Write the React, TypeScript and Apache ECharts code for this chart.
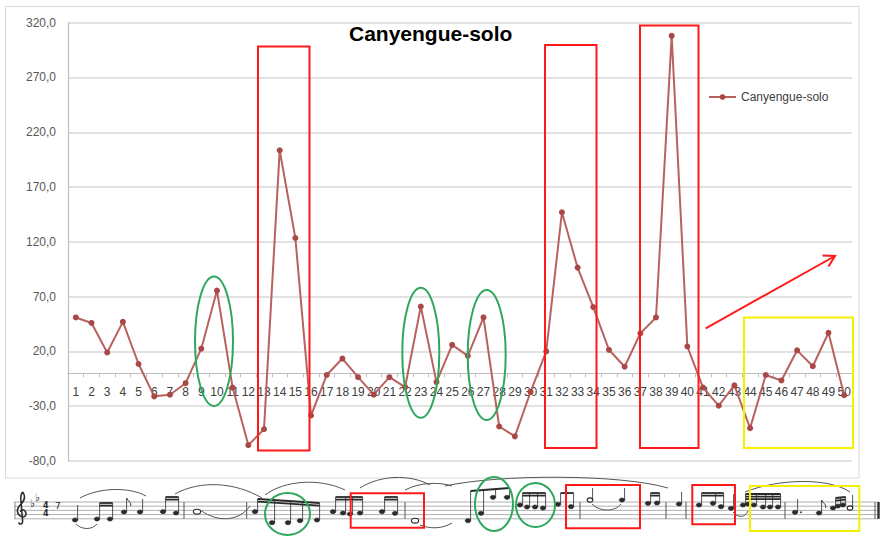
import React, { useEffect, useRef } from "react";
import * as echarts from "echarts";

// ---------- chart data ----------
const categories = [
  "1", "2", "3", "4", "5", "6", "7", "8", "9", "10",
  "11", "12", "13", "14", "15", "16", "17", "18", "19", "20",
  "21", "22", "23", "24", "25", "26", "27", "28", "29", "30",
  "31", "32", "33", "34", "35", "36", "37", "38", "39", "40",
  "41", "42", "43", "44", "45", "46", "47", "48", "49", "50",
];
const soloValues = [
  51, 46, 19, 47, 8.5, -21, -19.5, -9, 22.5, 75.5,
  -13, -65.5, -51, 203.5, 123.5, -38.5, -1.5, 13.5, -3.5, -19.5,
  -3.5, -12.5, 61, -8, 26, 16, 51, -48.5, -57.5, -17,
  20, 147, 96.5, 60.5, 21.5, 6, 36.5, 51, 308, 24.5,
  -13, -29.5, -11, -50, -1.5, -6.5, 21, 6.5, 37, -20,
];
const seriesName = "Canyengue-solo";
const titleText = "Canyengue-solo";
const yMin = -80;
const yMax = 320;
const yStep = 50;

// ---------- score illustration (decorative) ----------
type Group = {
  notes: number[][];
  beam?: number[];
  beams?: number;
  top?: number;
  flag?: boolean;
  open?: boolean;
  whole?: boolean;
  dot?: boolean;
};
const scoreGroups: Group[] = [
  { notes: [[75, 520]], top: 505 },
  { notes: [[97, 519], [110, 519]], beam: [503, 503], beams: 2 },
  { notes: [[124, 512]], top: 498, flag: true },
  { notes: [[140, 512]], top: 499 },
  { notes: [[163, 511.7], [176, 513]], beam: [497, 497], beams: 2 },
  { notes: [[197, 511.7]], whole: true },
  { notes: [[255, 511.7], [272, 522.7], [288, 522.7], [300, 520.7], [317, 520]], beam: [499, 503], beams: 2 },
  { notes: [[333, 511.7], [343, 513], [350, 514], [360, 513]], beam: [497, 497], beams: 2 },
  { notes: [[382, 511.7], [395, 513.3]], beam: [497, 497], beams: 2 },
  { notes: [[415, 520.7]], whole: true },
  { notes: [[468, 520.7], [481, 513.3], [493, 497.3], [507, 497.3]], beam: [491, 488], beams: 1 },
  { notes: [[520, 505], [527, 507], [535, 507], [543, 508]], beam: [493, 493], beams: 2 },
  { notes: [[558, 504.3], [571, 506.7]], beam: [493, 493], beams: 1 },
  { notes: [[590, 500]], top: 488, open: true },
  { notes: [[622, 500]], top: 488 },
  { notes: [[648, 503.3], [657, 503]], beam: [493, 493], beams: 2 },
  { notes: [[679, 504]], top: 492 },
  { notes: [[699, 505], [713, 503.3], [721, 506.7]], beam: [493, 493], beams: 2 },
  { notes: [[731, 508.3]], top: 494 },
  { notes: [[743, 505], [748, 504], [754, 505], [763, 507], [770, 507], [778, 507]], beam: [494, 494], beams: 3 },
  { notes: [[795, 512.3]], top: 499, dot: true },
  { notes: [[819, 513]], top: 500, flag: true },
  { notes: [[833, 508], [838, 506], [843, 505]], beam: [498, 497], beams: 2 },
  { notes: [[850, 508]], top: 495, open: true },
];
const barlines = [184, 246.7, 405, 580, 666, 686, 785];
const slurs = [
  [80, 498, 100, 487, 130, 487, 146, 496],
  [76, 524, 82, 530, 92, 530, 97, 524],
  [175, 494, 200, 480, 235, 482, 262, 498],
  [200, 510, 220, 524, 240, 520, 250, 506],
  [265, 495, 285, 480, 320, 478, 345, 490],
  [360, 488, 380, 475, 410, 474, 430, 485],
  [405, 490, 420, 482, 440, 482, 452, 486],
  [420, 525, 430, 529, 442, 529, 452, 523],
  [445, 486, 500, 474, 620, 474, 668, 488],
  [592, 504, 600, 512, 615, 512, 621, 504],
  [733, 512, 738, 518, 745, 518, 748, 511],
  [745, 492, 780, 478, 830, 478, 850, 492],
];

const CLEF_D =
  "M7 1 C10 5 9 10 5 14 C1 18 0 23 4 26 C8 29 12 26 10 22 C9 19 5 19 5 22 M7 1 C5 3 5 5 5 8 L7 32 C7 35 3 36 3 33";

const FONT = "'Liberation Sans', Arial, sans-serif";

// grid geometry (pixels)
const GRID_LEFT = 68;
const GRID_RIGHT = 29;
const GRID_TOP = 22.7;
const GRID_BOTTOM = 76;
const CHART_H = 537;

function buildScore(): any[] {
  const ink = "#2a2a2a";
  const els: any[] = [];
  const staffTop = 502;
  const gap = 4.2;
  for (let i = 0; i < 5; i++) {
    const y = staffTop + gap * i;
    els.push({
      type: "line",
      shape: { x1: 14, y1: y, x2: 879, y2: y },
      style: { stroke: "#9a9a9a", lineWidth: 0.8 },
    });
  }
  els.push({
    type: "line",
    shape: { x1: 15, y1: staffTop, x2: 15, y2: staffTop + gap * 4 },
    style: { stroke: "#777", lineWidth: 0.8 },
  });
  barlines.forEach((x) =>
    els.push({
      type: "line",
      shape: { x1: x, y1: staffTop, x2: x, y2: staffTop + gap * 4 },
      style: { stroke: "#555", lineWidth: 1 },
    })
  );
  els.push({
    type: "line",
    shape: { x1: 875, y1: staffTop, x2: 875, y2: staffTop + gap * 4 },
    style: { stroke: "#555", lineWidth: 1 },
  });
  els.push({
    type: "line",
    shape: { x1: 878.5, y1: staffTop, x2: 878.5, y2: staffTop + gap * 4 },
    style: { stroke: "#333", lineWidth: 2.5 },
  });
  els.push({
    type: "clef",
    x: 16,
    y: 491,
    scaleX: 0.95,
    scaleY: 0.95,
    style: { stroke: ink, fill: "none", lineWidth: 1.6 },
  });
  els.push({ type: "text", style: { text: "\u266D", x: 30, y: 498, font: "11px 'DejaVu Sans'", fill: ink } });
  els.push({ type: "text", style: { text: "\u266D", x: 35, y: 492, font: "11px 'DejaVu Sans'", fill: ink } });
  els.push({ type: "text", style: { text: "4", x: 43, y: 501, font: "bold 8px 'DejaVu Sans'", fill: ink } });
  els.push({ type: "text", style: { text: "4", x: 43, y: 509, font: "bold 8px 'DejaVu Sans'", fill: ink } });
  els.push({ type: "text", style: { text: "7", x: 55, y: 501, font: "9px 'DejaVu Sans'", fill: ink } });

  const so = 2.6;
  scoreGroups.forEach((g) => {
    g.notes.forEach(([x, y]) => {
      els.push({
        type: "ellipse",
        shape: { cx: x, cy: y, rx: g.whole ? 3.6 : 2.8, ry: g.whole ? 2.4 : 2.1 },
        style:
          g.whole || g.open
            ? { fill: "#fff", stroke: ink, lineWidth: 1.1 }
            : { fill: ink, stroke: ink, lineWidth: 0.5 },
      });
    });
    if (g.whole) return;
    if (g.beam) {
      const first = g.notes[0][0] + so;
      const last = g.notes[g.notes.length - 1][0] + so;
      const [b1, b2] = g.beam;
      const at = (x: number) => (last === first ? b1 : b1 + ((b2 - b1) * (x - first)) / (last - first));
      g.notes.forEach(([x, y]) => {
        els.push({
          type: "line",
          shape: { x1: x + so, y1: y, x2: x + so, y2: at(x + so) },
          style: { stroke: ink, lineWidth: 0.8 },
        });
      });
      for (let k = 0; k < (g.beams || 1); k++) {
        els.push({
          type: "line",
          shape: { x1: first, y1: b1 + k * 2.6, x2: last, y2: b2 + k * 2.6 },
          style: { stroke: ink, lineWidth: 1.8 },
        });
      }
    } else {
      const [x, y] = g.notes[0];
      els.push({
        type: "line",
        shape: { x1: x + so, y1: y, x2: x + so, y2: g.top },
        style: { stroke: ink, lineWidth: 0.8 },
      });
      if (g.flag) {
        els.push({
          type: "bezierCurve",
          shape: { x1: x + so, y1: g.top, cpx1: x + so + 1, cpy1: g.top + 3, cpx2: x + so + 5, cpy2: g.top + 4, x2: x + so + 4, y2: g.top + 8 },
          style: { stroke: ink, lineWidth: 1, fill: "none" },
        });
      }
      if (g.dot) {
        els.push({ type: "circle", shape: { cx: x + 6, cy: y, r: 0.9 }, style: { fill: ink } });
      }
    }
  });
  slurs.forEach(([x1, y1, cpx1, cpy1, cpx2, cpy2, x2, y2]) =>
    els.push({
      type: "bezierCurve",
      shape: { x1, y1, cpx1, cpy1, cpx2, cpy2, x2, y2 },
      style: { stroke: "#555", lineWidth: 1, fill: "none" },
    })
  );
  return els;
}

function buildAnnotations(): any[] {
  const red = "#ff1a1a";
  const green = "#2fa85c";
  const yellow = "#f4f000";
  const els: any[] = [];
  const rect = (x: number, y: number, w: number, h: number, c: string) =>
    els.push({
      type: "rect",
      z: 100,
      shape: { x, y, width: w, height: h },
      style: { fill: "none", stroke: c, lineWidth: 2 },
    });
  const ell = (cx: number, cy: number, rx: number, ry: number) =>
    els.push({
      type: "ellipse",
      z: 100,
      shape: { cx, cy, rx, ry },
      style: { fill: "none", stroke: green, lineWidth: 2 },
    });
  rect(258, 46.5, 51.5, 404, red);
  rect(545, 45, 51.5, 403, red);
  rect(640, 25.5, 58.5, 422.5, red);
  rect(744, 317.5, 109, 130.5, yellow);
  ell(214, 341.3, 19, 64.7);
  ell(420.8, 352.7, 18.5, 65);
  ell(486.7, 355, 19, 65);
  els.push({
    type: "line",
    z: 100,
    shape: { x1: 705.7, y1: 328.3, x2: 835, y2: 256 },
    style: { stroke: red, lineWidth: 2 },
  });
  els.push({
    type: "polyline",
    z: 100,
    shape: { points: [[822.5, 255.5], [835, 256], [828.5, 266.5]] },
    style: { stroke: red, lineWidth: 2, fill: "none" },
  });
  ell(287.5, 514, 22.5, 21);
  rect(350.7, 493.3, 73.3, 34.4, red);
  ell(494, 504, 19, 27);
  ell(535.5, 505, 19.5, 22);
  rect(566, 485, 74, 43.3, red);
  rect(692.3, 485, 42.7, 39.3, red);
  rect(750, 486, 109.3, 45, yellow);
  return els;
}

export default function App() {
  const ref = useRef<HTMLDivElement>(null);
  useEffect(() => {
    try {
      echarts.graphic.registerShape("clef", echarts.graphic.extendPath(CLEF_D, {}) as any);
    } catch (e) {
      /* ignore */
    }
    const chart = echarts.init(ref.current as HTMLDivElement, null, { renderer: "svg" });
    const plotH = CHART_H - GRID_TOP - GRID_BOTTOM;
    const zeroOffset = ((0 - yMin) / (yMax - yMin)) * plotH; // px from bottom edge to value 0
    const option: any = {
      animation: false,
      backgroundColor: "#ffffff",
      title: {
        text: titleText,
        left: 349,
        top: 23,
        padding: 0,
        textStyle: { fontFamily: FONT, fontSize: 21, fontWeight: "bold", color: "#000" },
      },
      legend: {
        data: [seriesName],
        left: 708,
        top: 91,
        padding: 0,
        itemWidth: 27,
        itemHeight: 7,
        textStyle: { fontFamily: FONT, fontSize: 12, color: "#404040" },
      },
      grid: { left: GRID_LEFT, right: GRID_RIGHT, top: GRID_TOP, bottom: GRID_BOTTOM, containLabel: false },
      xAxis: {
        type: "category",
        data: categories,
        boundaryGap: true,
        position: "bottom",
        offset: -zeroOffset,
        axisLine: { show: true, onZero: false, lineStyle: { color: "#bfbfbf", width: 1.2 } },
        axisTick: { show: true, length: 4, interval: 0, lineStyle: { color: "#bfbfbf" } },
        axisLabel: { interval: 0, margin: 13, fontFamily: FONT, fontSize: 12, color: "#404040" },
        splitLine: { show: false },
      },
      yAxis: {
        type: "value",
        min: yMin,
        max: yMax,
        interval: yStep,
        axisLine: { show: true, lineStyle: { color: "#bfbfbf", width: 1.2 } },
        axisTick: { show: false },
        axisLabel: {
          margin: 12,
          fontFamily: FONT,
          fontSize: 12,
          color: "#595959",
          formatter: (v: number) => v.toFixed(1).replace(".", ","),
        },
        splitLine: { show: true, lineStyle: { color: "#d9d9d9", width: 1.5 } },
      },
      series: [
        {
          type: "line",
          name: seriesName,
          data: soloValues,
          symbol: "circle",
          symbolSize: 6,
          lineStyle: { color: "#b8625f", width: 2 },
          itemStyle: { color: "#a94846" },
          z: 3,
        },
      ],
      graphic: {
        elements: [
          {
            type: "rect",
            z: -1,
            shape: { x: 5.5, y: 6.5, width: 853.5, height: 471.5 },
            style: { fill: "none", stroke: "#d9d9d9", lineWidth: 1 },
          },
          ...buildAnnotations(),
          ...buildScore(),
        ],
      },
    };
    chart.setOption(option);
    return () => chart.dispose();
  }, []);
  return (
    <div
      ref={ref}
      style={{ position: "fixed", left: 0, top: 0, width: 881, height: 537, background: "#fff" }}
    />
  );
}
